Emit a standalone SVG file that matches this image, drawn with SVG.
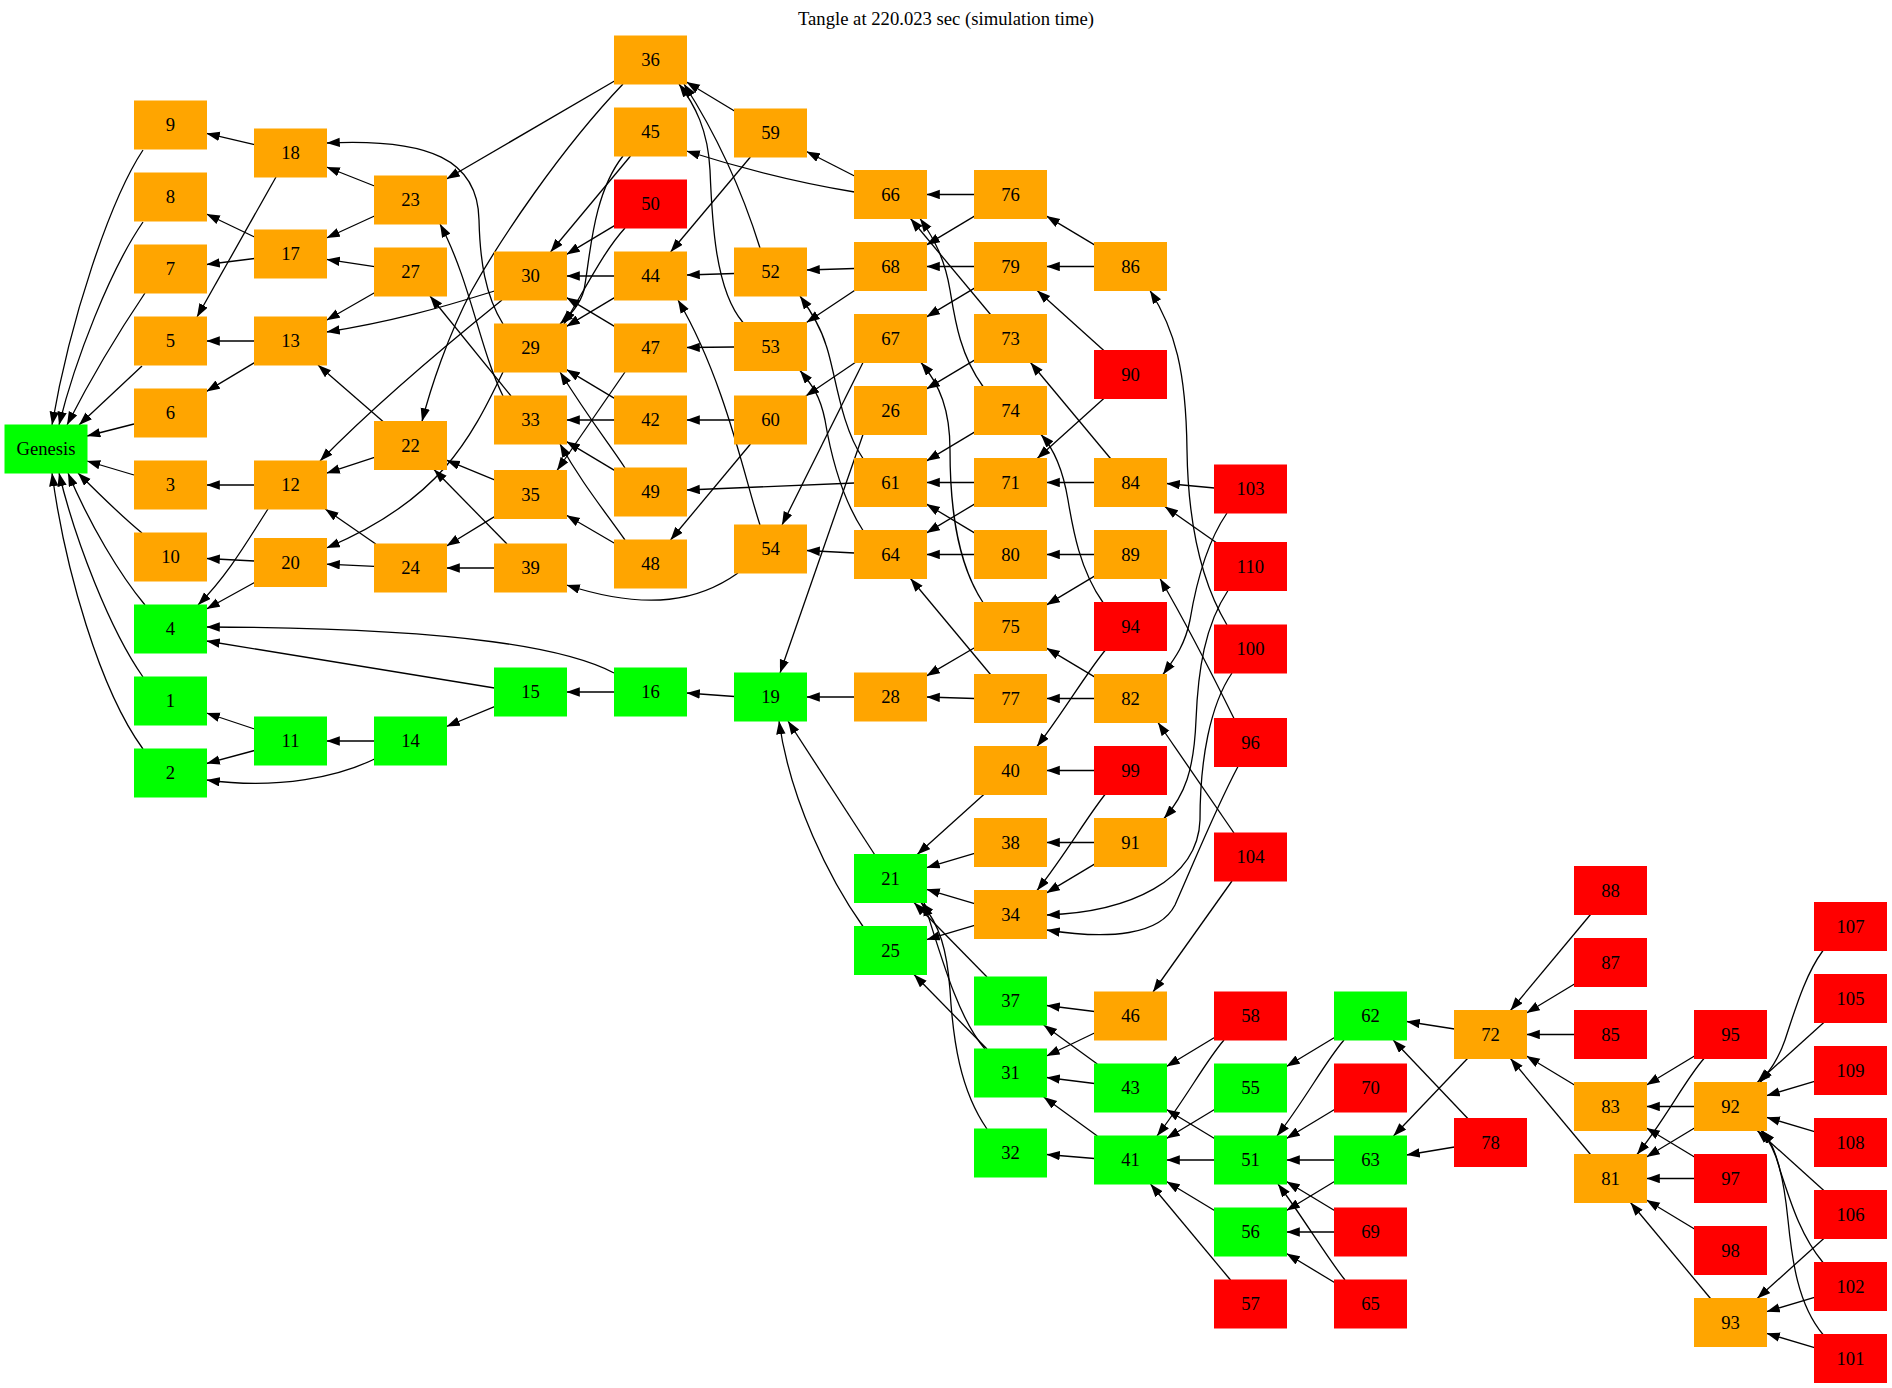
<svg xmlns="http://www.w3.org/2000/svg" width="1892" height="1388" viewBox="0 0 1892 1388">
<style>
  .o rect{fill:#ffa500;stroke:#ffa500}
  .g rect{fill:#00ff00;stroke:#00ff00}
  .r rect{fill:#ff0000;stroke:#ff0000}
  text{font-family:"Liberation Serif","Times New Roman",serif;font-size:18.67px;text-anchor:middle;fill:#000}
  #edges path{fill:none;stroke:#000;stroke-width:1.3;marker-end:url(#ah)}
</style>
<defs>
  <marker id="ah" markerUnits="userSpaceOnUse" markerWidth="14" markerHeight="10" refX="13.3" refY="4.7" orient="auto">
    <path d="M0,0 L13.3,4.7 L0,9.4 z" fill="#000"/>
  </marker>
</defs>
<rect width="1892" height="1388" fill="#fff"/>
<text x="946" y="25">Tangle at 220.023 sec (simulation time)</text>

<g id="edges">
  <!-- into Genesis -->
  <path d="M143,150 C110,200 70,320 52,425"/>
  <path d="M143,222 C110,270 75,360 59,425"/>
  <path d="M145,293 C120,330 90,380 67,425"/>
  <path d="M142,366 L79,425"/>
  <path d="M134,424 L87,436"/>
  <path d="M134,475 L87,461"/>
  <path d="M142,533 C120,515 97,492 78,473"/>
  <path d="M145,605 C120,575 90,525 68,473"/>
  <path d="M143,677 C110,630 75,540 59,473"/>
  <path d="M143,749 C100,690 65,570 52,473"/>
  <!-- column 2 -->
  <path d="M254.5,144.6 L206.5,133.4"/>
  <path d="M276,177 L197,317"/>
  <path d="M254.5,237 L206.5,214"/>
  <path d="M254.5,258.5 L206.5,264.5"/>
  <path d="M254.5,341 L206.5,341"/>
  <path d="M254.5,362.6 L206.5,391.4"/>
  <path d="M254.5,485 L206.5,485"/>
  <path d="M268,509 C248,540 228,575 198,605"/>
  <path d="M254.5,561 L206.5,558.5"/>
  <path d="M254.5,582.5 L206.5,609"/>
  <path d="M254.5,729 L206.5,713"/>
  <path d="M254.5,750.5 L206.5,763.5"/>
  <!-- column 3 -->
  <path d="M374.5,186 L326.5,167"/>
  <path d="M374.5,216 L326.5,238"/>
  <path d="M374.5,266.6 L326.5,259.4"/>
  <path d="M374.5,292.7 L326.5,320.3"/>
  <path d="M383,421.5 L318,365"/>
  <path d="M374.5,457.4 L326.5,473.2"/>
  <path d="M374.5,566.4 L326.5,564.2"/>
  <path d="M375.8,544 L325.2,509"/>
  <path d="M374.5,741 L326.5,741"/>
  <path d="M374.5,759 C340,776 280,790 206.5,780"/>
  <!-- column 4 -->
  <path d="M494.5,291 C440,308 390,322 326.5,332"/>
  <path d="M502,300 C440,350 370,410 320,461"/>
  <path d="M503,324 C485,295 480,260 479,220 C478,160 430,138 326.5,143"/>
  <path d="M503,372 C470,440 440,500 326.5,548"/>
  <path d="M503,396 C480,350 470,280 440,224"/>
  <path d="M511,396 L430,296"/>
  <path d="M494.5,479.8 L446.5,460.2"/>
  <path d="M494.5,516.6 L446.5,546"/>
  <path d="M494.5,568 L446.5,568"/>
  <path d="M507,544 L434,469.5"/>
  <path d="M494.5,688 L206.5,641"/>
  <path d="M494.5,706.6 L446.5,726.5"/>
  <!-- column 5 -->
  <path d="M614.5,81 L446.5,179"/>
  <path d="M623,84 C560,150 500,240 472,290 C448,335 430,390 422,421.5"/>
  <path d="M630.5,156 L550.5,252"/>
  <path d="M623,156 C592,195 590,260 584,290 C580,305 570,315 560,324"/>
  <path d="M614.5,225.6 L566.5,254.4"/>
  <path d="M625,228 C605,250 590,280 564,324"/>
  <path d="M614.5,276 L566.5,276"/>
  <path d="M614.5,297.6 L566.5,326.4"/>
  <path d="M614.5,326.4 L566.5,297.6"/>
  <path d="M625,372 L557,470.5"/>
  <path d="M614.5,420 L566.5,420"/>
  <path d="M614.5,398.4 L566.5,369.6"/>
  <path d="M625,468 C610,445 590,420 560,372"/>
  <path d="M614.5,470.4 L566.5,441.6"/>
  <path d="M614.5,543.2 L566.5,515.3"/>
  <path d="M625,540 C600,505 580,480 560,444"/>
  <path d="M614.5,692 L566.5,692"/>
  <path d="M614,673 C570,650 470,628 206.5,627"/>
  <!-- column 6 -->
  <path d="M734.5,111 L686.5,82"/>
  <path d="M750.4,157 L670.6,252"/>
  <path d="M760,248 C745,200 720,140 684,84"/>
  <path d="M734.5,273.5 L686.5,275"/>
  <path d="M743,322.5 C715,290 712,220 710,170 C708,130 695,105 679,84"/>
  <path d="M734.5,347 L686.5,347.5"/>
  <path d="M734.5,420 L686.5,420"/>
  <path d="M750.5,444 L670.5,540"/>
  <path d="M760,525 C745,480 725,380 678,300"/>
  <path d="M738,573 C700,600 650,612 566.5,585"/>
  <path d="M734.5,696.5 L686.5,693"/>
  <!-- column 7 -->
  <path d="M854.5,176 L806.5,151.5"/>
  <path d="M854.5,192 C800,183 740,168 686.5,151"/>
  <path d="M854.5,268.5 L806.5,270"/>
  <path d="M854.5,290.5 L806.5,322.5"/>
  <path d="M855.2,362.5 L805.8,396"/>
  <path d="M863,362.5 L782,525"/>
  <path d="M863,434.5 L780,673"/>
  <path d="M854.5,483 L686.5,490"/>
  <path d="M863,458.5 C840,425 835,370 826,345 C820,325 810,310 800,296"/>
  <path d="M863,530.5 C840,495 830,450 825,420 C820,395 812,385 800,370.5"/>
  <path d="M854.5,553 L806.5,550.5"/>
  <path d="M854.5,697 L806.5,697"/>
  <path d="M874.6,854.5 L788,721"/>
  <path d="M863,926.5 C830,880 790,800 779,721"/>
  <!-- column 8 -->
  <path d="M974.5,194.5 L926.5,194.5"/>
  <path d="M974.5,216.1 L926.5,244.9"/>
  <path d="M974.5,266.5 L926.5,266.5"/>
  <path d="M974.5,288.1 L926.5,316.9"/>
  <path d="M990.5,314.5 L910.5,218.5"/>
  <path d="M974.5,360.1 L926.5,388.9"/>
  <path d="M983,386.5 C960,355 955,320 950,290 C945,260 935,240 920,218.5"/>
  <path d="M974.5,432.1 L926.5,460.9"/>
  <path d="M974.5,482.5 L926.5,482.5"/>
  <path d="M974.5,504.1 L926.5,532.9"/>
  <path d="M974.5,532.9 L926.5,504.1"/>
  <path d="M974.5,554.5 L926.5,554.5"/>
  <path d="M983,602.5 C955,560 950,500 950,450 C950,410 940,385 921,362.5"/>
  <path d="M974.5,647.7 L926.5,675.9"/>
  <path d="M974.5,698.5 L926.5,697"/>
  <path d="M990.5,674.5 L910.5,578.5"/>
  <path d="M983.8,794.5 L917.2,854.5"/>
  <path d="M974.5,853.3 L926.5,867.7"/>
  <path d="M974.5,903.7 L926.5,889.3"/>
  <path d="M974.5,925.3 L926.5,939.7"/>
  <path d="M987,977 L914,902.5"/>
  <path d="M985,1049 C960,1020 945,970 924,902.5"/>
  <path d="M987,1049 L914,974.5"/>
  <path d="M987,1129 C960,1090 953,1040 950,990 C947,950 940,925 921,902.5"/>
  <!-- column 9 -->
  <path d="M1094.5,244.9 L1046.5,216.1"/>
  <path d="M1094.5,266.5 L1046.5,266.5"/>
  <path d="M1103.8,350.5 L1037.2,290.5"/>
  <path d="M1103.8,398.5 L1037.2,458.5"/>
  <path d="M1110.5,458.5 L1030.5,362.5"/>
  <path d="M1094.5,482.5 L1046.5,482.5"/>
  <path d="M1094.5,554.5 L1046.5,554.5"/>
  <path d="M1094.5,576.1 L1046.5,604.9"/>
  <path d="M1103,602.5 C1080,570 1073,530 1068,500 C1063,470 1055,450 1041,434.5"/>
  <path d="M1105,650.5 C1085,675 1065,710 1037,746.5"/>
  <path d="M1094.5,676.9 L1046.5,648.1"/>
  <path d="M1094.5,698.5 L1046.5,698.5"/>
  <path d="M1094.5,770.5 L1046.5,770.5"/>
  <path d="M1105,794.5 C1085,820 1065,855 1037,890.5"/>
  <path d="M1094.5,842.5 L1046.5,842.5"/>
  <path d="M1094.5,864.1 L1046.5,892.9"/>
  <path d="M1094.5,1011.5 L1046.5,1005.5"/>
  <path d="M1094.5,1033 L1046.5,1056"/>
  <path d="M1097.3,1064 L1043.7,1025"/>
  <path d="M1094.5,1083.5 L1046.5,1077.5"/>
  <path d="M1097.3,1136 L1043.7,1097"/>
  <path d="M1094.5,1158.5 L1046.5,1154.5"/>
  <!-- column 10 -->
  <path d="M1214.5,488 L1166.5,483.5"/>
  <path d="M1227,513 C1205,545 1195,590 1190,620 C1185,645 1175,658 1163,674.5"/>
  <path d="M1216.2,542.5 L1164.8,506.5"/>
  <path d="M1228,590.5 C1205,625 1198,670 1196,720 C1194,770 1185,795 1164,818.5"/>
  <path d="M1227,625 C1200,580 1188,520 1187,450 C1186,370 1175,330 1150,290.5"/>
  <path d="M1232,673 C1210,705 1200,760 1200,820 C1198,880 1130,912 1046.5,915"/>
  <path d="M1234,718.5 C1215,680 1190,630 1160,578.5"/>
  <path d="M1238,766.5 C1215,810 1195,860 1175,905 C1160,935 1110,940 1046.5,930"/>
  <path d="M1234,833 L1158,722.5"/>
  <path d="M1232,881 L1153,992"/>
  <path d="M1214.5,1037.5 L1166.5,1066.5"/>
  <path d="M1224,1040 C1205,1062 1185,1100 1157,1136"/>
  <path d="M1214.5,1109.5 L1166.5,1138.5"/>
  <path d="M1214.5,1138.5 L1166.5,1109.5"/>
  <path d="M1214.5,1160 L1166.5,1160"/>
  <path d="M1214.5,1210.5 L1166.5,1181.5"/>
  <path d="M1230.5,1280 L1150.5,1184"/>
  <!-- column 11 -->
  <path d="M1334.5,1037.5 L1286.5,1066.5"/>
  <path d="M1344,1040 C1325,1062 1305,1100 1277,1136"/>
  <path d="M1334.5,1109.5 L1286.5,1138.5"/>
  <path d="M1334.5,1160 L1286.5,1160"/>
  <path d="M1334.5,1181.5 L1286.5,1210.5"/>
  <path d="M1334.5,1210.5 L1286.5,1181.5"/>
  <path d="M1334.5,1232 L1286.5,1232"/>
  <path d="M1345,1280 C1325,1255 1305,1220 1278,1184"/>
  <path d="M1334.5,1282.5 L1286.5,1253.5"/>
  <!-- column 12 -->
  <path d="M1454.5,1029 L1406.5,1021.5"/>
  <path d="M1467.5,1058.5 L1393.5,1136"/>
  <path d="M1467.8,1118.5 L1393.2,1040"/>
  <path d="M1454.5,1147 L1406.5,1155"/>
  <!-- column 13 -->
  <path d="M1590.5,914.5 L1510.5,1010.5"/>
  <path d="M1574.5,984 L1526.5,1013"/>
  <path d="M1574.5,1034.5 L1526.5,1034.5"/>
  <path d="M1574.5,1085 L1526.5,1056"/>
  <path d="M1590.5,1154.5 L1510.5,1058.5"/>
  <!-- column 14 -->
  <path d="M1694.5,1056 L1646.5,1085"/>
  <path d="M1704,1058.5 C1685,1080 1665,1120 1637,1154.5"/>
  <path d="M1694.5,1106.5 L1646.5,1106.5"/>
  <path d="M1694.5,1128 L1646.5,1157"/>
  <path d="M1694.5,1157 L1646.5,1128"/>
  <path d="M1694.5,1178.5 L1646.5,1178.5"/>
  <path d="M1694.5,1229 L1646.5,1200"/>
  <path d="M1710.5,1298.5 L1630.5,1202.5"/>
  <!-- column 15 -->
  <path d="M1823,950.5 C1805,975 1795,1010 1785,1040 C1778,1060 1770,1070 1760,1082.5"/>
  <path d="M1823.8,1022.5 L1757.2,1082.5"/>
  <path d="M1814.5,1081.3 L1766.5,1095.7"/>
  <path d="M1814.5,1131.7 L1766.5,1117.3"/>
  <path d="M1823.8,1190.5 L1757.2,1130.5"/>
  <path d="M1823.8,1238.5 L1757.2,1298.5"/>
  <path d="M1823,1262.5 C1800,1235 1790,1200 1780,1170 C1775,1150 1770,1140 1762,1130.5"/>
  <path d="M1814.5,1297.3 L1766.5,1311.7"/>
  <path d="M1823,1334.5 C1798,1305 1792,1260 1788,1220 C1784,1180 1778,1150 1761,1130.5"/>
  <path d="M1814.5,1347.7 L1766.5,1333.3"/>
</g>

<g id="nGenesis" class="g"><rect x="5" y="425" width="82" height="48"/><text x="46" y="455">Genesis</text></g>
<g id="n9" class="o"><rect x="134.5" y="101" width="72" height="48"/><text x="170.5" y="131">9</text></g>
<g id="n8" class="o"><rect x="134.5" y="173" width="72" height="48"/><text x="170.5" y="203">8</text></g>
<g id="n7" class="o"><rect x="134.5" y="245" width="72" height="48"/><text x="170.5" y="275">7</text></g>
<g id="n5" class="o"><rect x="134.5" y="317" width="72" height="48"/><text x="170.5" y="347">5</text></g>
<g id="n6" class="o"><rect x="134.5" y="389" width="72" height="48"/><text x="170.5" y="419">6</text></g>
<g id="n3" class="o"><rect x="134.5" y="461" width="72" height="48"/><text x="170.5" y="491">3</text></g>
<g id="n10" class="o"><rect x="134.5" y="533" width="72" height="48"/><text x="170.5" y="563">10</text></g>
<g id="n4" class="g"><rect x="134.5" y="605" width="72" height="48"/><text x="170.5" y="635">4</text></g>
<g id="n1" class="g"><rect x="134.5" y="677" width="72" height="48"/><text x="170.5" y="707">1</text></g>
<g id="n2" class="g"><rect x="134.5" y="749" width="72" height="48"/><text x="170.5" y="779">2</text></g>

<g id="n18" class="o"><rect x="254.5" y="129" width="72" height="48"/><text x="290.5" y="159">18</text></g>
<g id="n17" class="o"><rect x="254.5" y="230" width="72" height="48"/><text x="290.5" y="260">17</text></g>
<g id="n13" class="o"><rect x="254.5" y="317" width="72" height="48"/><text x="290.5" y="347">13</text></g>
<g id="n12" class="o"><rect x="254.5" y="461" width="72" height="48"/><text x="290.5" y="491">12</text></g>
<g id="n20" class="o"><rect x="254.5" y="538.5" width="72" height="48"/><text x="290.5" y="568.5">20</text></g>
<g id="n11" class="g"><rect x="254.5" y="717" width="72" height="48"/><text x="290.5" y="747">11</text></g>

<g id="n23" class="o"><rect x="374.5" y="176" width="72" height="48"/><text x="410.5" y="206">23</text></g>
<g id="n27" class="o"><rect x="374.5" y="248" width="72" height="48"/><text x="410.5" y="278">27</text></g>
<g id="n22" class="o"><rect x="374.5" y="421.5" width="72" height="48"/><text x="410.5" y="451.5">22</text></g>
<g id="n24" class="o"><rect x="374.5" y="544" width="72" height="48"/><text x="410.5" y="574">24</text></g>
<g id="n14" class="g"><rect x="374.5" y="717" width="72" height="48"/><text x="410.5" y="747">14</text></g>

<g id="n30" class="o"><rect x="494.5" y="252" width="72" height="48"/><text x="530.5" y="282">30</text></g>
<g id="n29" class="o"><rect x="494.5" y="324" width="72" height="48"/><text x="530.5" y="354">29</text></g>
<g id="n33" class="o"><rect x="494.5" y="396" width="72" height="48"/><text x="530.5" y="426">33</text></g>
<g id="n35" class="o"><rect x="494.5" y="470.5" width="72" height="48"/><text x="530.5" y="500.5">35</text></g>
<g id="n39" class="o"><rect x="494.5" y="544" width="72" height="48"/><text x="530.5" y="574">39</text></g>
<g id="n15" class="g"><rect x="494.5" y="668" width="72" height="48"/><text x="530.5" y="698">15</text></g>

<g id="n36" class="o"><rect x="614.5" y="36" width="72" height="48"/><text x="650.5" y="66">36</text></g>
<g id="n45" class="o"><rect x="614.5" y="108" width="72" height="48"/><text x="650.5" y="138">45</text></g>
<g id="n50" class="r"><rect x="614.5" y="180" width="72" height="48"/><text x="650.5" y="210">50</text></g>
<g id="n44" class="o"><rect x="614.5" y="252" width="72" height="48"/><text x="650.5" y="282">44</text></g>
<g id="n47" class="o"><rect x="614.5" y="324" width="72" height="48"/><text x="650.5" y="354">47</text></g>
<g id="n42" class="o"><rect x="614.5" y="396" width="72" height="48"/><text x="650.5" y="426">42</text></g>
<g id="n49" class="o"><rect x="614.5" y="468" width="72" height="48"/><text x="650.5" y="498">49</text></g>
<g id="n48" class="o"><rect x="614.5" y="540" width="72" height="48"/><text x="650.5" y="570">48</text></g>
<g id="n16" class="g"><rect x="614.5" y="668" width="72" height="48"/><text x="650.5" y="698">16</text></g>

<g id="n59" class="o"><rect x="734.5" y="109" width="72" height="48"/><text x="770.5" y="139">59</text></g>
<g id="n52" class="o"><rect x="734.5" y="248" width="72" height="48"/><text x="770.5" y="278">52</text></g>
<g id="n53" class="o"><rect x="734.5" y="322.5" width="72" height="48"/><text x="770.5" y="352.5">53</text></g>
<g id="n60" class="o"><rect x="734.5" y="396" width="72" height="48"/><text x="770.5" y="426">60</text></g>
<g id="n54" class="o"><rect x="734.5" y="525" width="72" height="48"/><text x="770.5" y="555">54</text></g>
<g id="n19" class="g"><rect x="734.5" y="673" width="72" height="48"/><text x="770.5" y="703">19</text></g>

<g id="n66" class="o"><rect x="854.5" y="170.5" width="72" height="48"/><text x="890.5" y="200.5">66</text></g>
<g id="n68" class="o"><rect x="854.5" y="242.5" width="72" height="48"/><text x="890.5" y="272.5">68</text></g>
<g id="n67" class="o"><rect x="854.5" y="314.5" width="72" height="48"/><text x="890.5" y="344.5">67</text></g>
<g id="n26" class="o"><rect x="854.5" y="386.5" width="72" height="48"/><text x="890.5" y="416.5">26</text></g>
<g id="n61" class="o"><rect x="854.5" y="458.5" width="72" height="48"/><text x="890.5" y="488.5">61</text></g>
<g id="n64" class="o"><rect x="854.5" y="530.5" width="72" height="48"/><text x="890.5" y="560.5">64</text></g>
<g id="n28" class="o"><rect x="854.5" y="673" width="72" height="48"/><text x="890.5" y="703">28</text></g>
<g id="n21" class="g"><rect x="854.5" y="854.5" width="72" height="48"/><text x="890.5" y="884.5">21</text></g>
<g id="n25" class="g"><rect x="854.5" y="926.5" width="72" height="48"/><text x="890.5" y="956.5">25</text></g>

<g id="n76" class="o"><rect x="974.5" y="170.5" width="72" height="48"/><text x="1010.5" y="200.5">76</text></g>
<g id="n79" class="o"><rect x="974.5" y="242.5" width="72" height="48"/><text x="1010.5" y="272.5">79</text></g>
<g id="n73" class="o"><rect x="974.5" y="314.5" width="72" height="48"/><text x="1010.5" y="344.5">73</text></g>
<g id="n74" class="o"><rect x="974.5" y="386.5" width="72" height="48"/><text x="1010.5" y="416.5">74</text></g>
<g id="n71" class="o"><rect x="974.5" y="458.5" width="72" height="48"/><text x="1010.5" y="488.5">71</text></g>
<g id="n80" class="o"><rect x="974.5" y="530.5" width="72" height="48"/><text x="1010.5" y="560.5">80</text></g>
<g id="n75" class="o"><rect x="974.5" y="602.5" width="72" height="48"/><text x="1010.5" y="632.5">75</text></g>
<g id="n77" class="o"><rect x="974.5" y="674.5" width="72" height="48"/><text x="1010.5" y="704.5">77</text></g>
<g id="n40" class="o"><rect x="974.5" y="746.5" width="72" height="48"/><text x="1010.5" y="776.5">40</text></g>
<g id="n38" class="o"><rect x="974.5" y="818.5" width="72" height="48"/><text x="1010.5" y="848.5">38</text></g>
<g id="n34" class="o"><rect x="974.5" y="890.5" width="72" height="48"/><text x="1010.5" y="920.5">34</text></g>
<g id="n37" class="g"><rect x="974.5" y="977" width="72" height="48"/><text x="1010.5" y="1007">37</text></g>
<g id="n31" class="g"><rect x="974.5" y="1049" width="72" height="48"/><text x="1010.5" y="1079">31</text></g>
<g id="n32" class="g"><rect x="974.5" y="1129" width="72" height="48"/><text x="1010.5" y="1159">32</text></g>

<g id="n86" class="o"><rect x="1094.5" y="242.5" width="72" height="48"/><text x="1130.5" y="272.5">86</text></g>
<g id="n90" class="r"><rect x="1094.5" y="350.5" width="72" height="48"/><text x="1130.5" y="380.5">90</text></g>
<g id="n84" class="o"><rect x="1094.5" y="458.5" width="72" height="48"/><text x="1130.5" y="488.5">84</text></g>
<g id="n89" class="o"><rect x="1094.5" y="530.5" width="72" height="48"/><text x="1130.5" y="560.5">89</text></g>
<g id="n94" class="r"><rect x="1094.5" y="602.5" width="72" height="48"/><text x="1130.5" y="632.5">94</text></g>
<g id="n82" class="o"><rect x="1094.5" y="674.5" width="72" height="48"/><text x="1130.5" y="704.5">82</text></g>
<g id="n99" class="r"><rect x="1094.5" y="746.5" width="72" height="48"/><text x="1130.5" y="776.5">99</text></g>
<g id="n91" class="o"><rect x="1094.5" y="818.5" width="72" height="48"/><text x="1130.5" y="848.5">91</text></g>
<g id="n46" class="o"><rect x="1094.5" y="992" width="72" height="48"/><text x="1130.5" y="1022">46</text></g>
<g id="n43" class="g"><rect x="1094.5" y="1064" width="72" height="48"/><text x="1130.5" y="1094">43</text></g>
<g id="n41" class="g"><rect x="1094.5" y="1136" width="72" height="48"/><text x="1130.5" y="1166">41</text></g>

<g id="n103" class="r"><rect x="1214.5" y="465" width="72" height="48"/><text x="1250.5" y="495">103</text></g>
<g id="n110" class="r"><rect x="1214.5" y="542.5" width="72" height="48"/><text x="1250.5" y="572.5">110</text></g>
<g id="n100" class="r"><rect x="1214.5" y="625" width="72" height="48"/><text x="1250.5" y="655">100</text></g>
<g id="n96" class="r"><rect x="1214.5" y="718.5" width="72" height="48"/><text x="1250.5" y="748.5">96</text></g>
<g id="n104" class="r"><rect x="1214.5" y="833" width="72" height="48"/><text x="1250.5" y="863">104</text></g>
<g id="n58" class="r"><rect x="1214.5" y="992" width="72" height="48"/><text x="1250.5" y="1022">58</text></g>
<g id="n55" class="g"><rect x="1214.5" y="1064" width="72" height="48"/><text x="1250.5" y="1094">55</text></g>
<g id="n51" class="g"><rect x="1214.5" y="1136" width="72" height="48"/><text x="1250.5" y="1166">51</text></g>
<g id="n56" class="g"><rect x="1214.5" y="1208" width="72" height="48"/><text x="1250.5" y="1238">56</text></g>
<g id="n57" class="r"><rect x="1214.5" y="1280" width="72" height="48"/><text x="1250.5" y="1310">57</text></g>

<g id="n62" class="g"><rect x="1334.5" y="992" width="72" height="48"/><text x="1370.5" y="1022">62</text></g>
<g id="n70" class="r"><rect x="1334.5" y="1064" width="72" height="48"/><text x="1370.5" y="1094">70</text></g>
<g id="n63" class="g"><rect x="1334.5" y="1136" width="72" height="48"/><text x="1370.5" y="1166">63</text></g>
<g id="n69" class="r"><rect x="1334.5" y="1208" width="72" height="48"/><text x="1370.5" y="1238">69</text></g>
<g id="n65" class="r"><rect x="1334.5" y="1280" width="72" height="48"/><text x="1370.5" y="1310">65</text></g>

<g id="n72" class="o"><rect x="1454.5" y="1010.5" width="72" height="48"/><text x="1490.5" y="1040.5">72</text></g>
<g id="n78" class="r"><rect x="1454.5" y="1118.5" width="72" height="48"/><text x="1490.5" y="1148.5">78</text></g>

<g id="n88" class="r"><rect x="1574.5" y="866.5" width="72" height="48"/><text x="1610.5" y="896.5">88</text></g>
<g id="n87" class="r"><rect x="1574.5" y="938.5" width="72" height="48"/><text x="1610.5" y="968.5">87</text></g>
<g id="n85" class="r"><rect x="1574.5" y="1010.5" width="72" height="48"/><text x="1610.5" y="1040.5">85</text></g>
<g id="n83" class="o"><rect x="1574.5" y="1082.5" width="72" height="48"/><text x="1610.5" y="1112.5">83</text></g>
<g id="n81" class="o"><rect x="1574.5" y="1154.5" width="72" height="48"/><text x="1610.5" y="1184.5">81</text></g>

<g id="n95" class="r"><rect x="1694.5" y="1010.5" width="72" height="48"/><text x="1730.5" y="1040.5">95</text></g>
<g id="n92" class="o"><rect x="1694.5" y="1082.5" width="72" height="48"/><text x="1730.5" y="1112.5">92</text></g>
<g id="n97" class="r"><rect x="1694.5" y="1154.5" width="72" height="48"/><text x="1730.5" y="1184.5">97</text></g>
<g id="n98" class="r"><rect x="1694.5" y="1226.5" width="72" height="48"/><text x="1730.5" y="1256.5">98</text></g>
<g id="n93" class="o"><rect x="1694.5" y="1298.5" width="72" height="48"/><text x="1730.5" y="1328.5">93</text></g>

<g id="n107" class="r"><rect x="1814.5" y="902.5" width="72" height="48"/><text x="1850.5" y="932.5">107</text></g>
<g id="n105" class="r"><rect x="1814.5" y="974.5" width="72" height="48"/><text x="1850.5" y="1004.5">105</text></g>
<g id="n109" class="r"><rect x="1814.5" y="1046.5" width="72" height="48"/><text x="1850.5" y="1076.5">109</text></g>
<g id="n108" class="r"><rect x="1814.5" y="1118.5" width="72" height="48"/><text x="1850.5" y="1148.5">108</text></g>
<g id="n106" class="r"><rect x="1814.5" y="1190.5" width="72" height="48"/><text x="1850.5" y="1220.5">106</text></g>
<g id="n102" class="r"><rect x="1814.5" y="1262.5" width="72" height="48"/><text x="1850.5" y="1292.5">102</text></g>
<g id="n101" class="r"><rect x="1814.5" y="1334.5" width="72" height="48"/><text x="1850.5" y="1364.5">101</text></g>
</svg>
